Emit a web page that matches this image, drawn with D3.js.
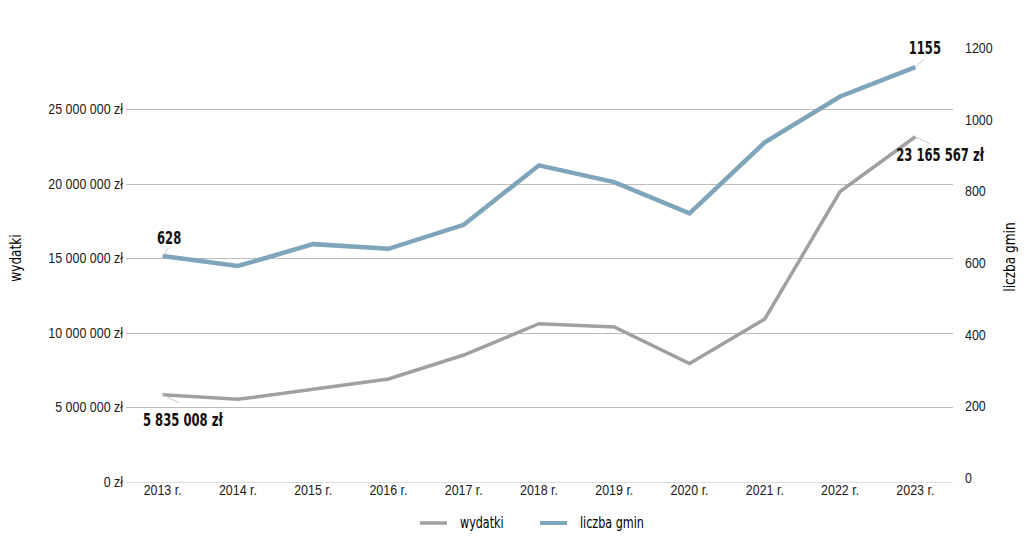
<!DOCTYPE html>
<html>
<head>
<meta charset="utf-8">
<script src="https://cdn.jsdelivr.net/npm/d3@7"></script>
<style>
  body { margin: 0; background: #fff; }
  svg { display: block; font-family: "DejaVu Sans Condensed", "Liberation Sans Narrow", sans-serif; }
  .tick text { fill: #1a1a1a; font-size: 15px; }
  .label { font-weight: bold; font-size: 17px; fill: #111; }
</style>
</head>
<body>
<script>
var years = ['2013 r.', '2014 r.', '2015 r.', '2016 r.', '2017 r.', '2018 r.', '2019 r.', '2020 r.', '2021 r.', '2022 r.', '2023 r.'];
var wydatki = [5835008, 5520000, 6200000, 6890000, 8500000, 10600000, 10380000, 7920000, 10920000, 19480000, 23165567];
var gminy = [628, 600, 661, 648, 715, 881, 834, 747, 945, 1073, 1155];
var leftTicks = [0, 5000000, 10000000, 15000000, 20000000, 25000000];
var rightTicks = [0, 200, 400, 600, 800, 1000, 1200];

var width = 1024, height = 556;
var grey = '#a0a0a0', blue = '#7ea5b9';
var narrow = 0.83, narrowBold = 0.76;

var svg = d3.select('body').append('svg')
  .attr('width', width)
  .attr('height', height);

var x = d3.scaleBand().domain(years).range([125, 953]);
var yL = d3.scaleLinear().domain([0, 30000000]).range([481.5, 35]);
var yR = d3.scaleLinear().domain([0, 1200]).range([481, 51]);

function cx(d, i) { return x(years[i]) + x.bandwidth() / 2; }

function fmt(v) {
  return d3.format(',')(v).replace(/,/g, ' ') + ' zł';
}

// the reference uses a condensed face, squeeze ours horizontally
function squeeze(sel, k) {
  sel.attr('transform', 'scale(' + k + ',1)');
}

// gridlines
svg.append('g').selectAll('line')
  .data(leftTicks)
  .enter().append('line')
  .attr('x1', 126).attr('x2', 953)
  .attr('y1', function(d) { return Math.round(yL(d)) + 0.5; })
  .attr('y2', function(d) { return Math.round(yL(d)) + 0.5; })
  .attr('stroke', function(d) { return d === 0 ? '#dcdcdc' : '#bdbdbd'; })
  .attr('stroke-width', 1);

// left axis
var gl = svg.append('g')
  .attr('transform', 'translate(123,0)')
  .call(d3.axisLeft(yL).tickValues(leftTicks).tickSize(0).tickPadding(0).tickFormat(fmt));
gl.select('.domain').remove();
gl.selectAll('.tick text').attr('dy', '0.3em').call(squeeze, narrow);

// right axis
var gr = svg.append('g')
  .attr('transform', 'translate(965,-3)')
  .call(d3.axisRight(yR).tickValues(rightTicks).tickSize(0).tickPadding(0).tickFormat(d3.format('d')));
gr.select('.domain').remove();
gr.selectAll('.tick text').attr('dy', '0.3em').call(squeeze, narrow);

// x axis
var gx = svg.append('g')
  .attr('transform', 'translate(0,482)')
  .call(d3.axisBottom(x).tickSize(0).tickPadding(2));
gx.select('.domain').remove();
gx.selectAll('.tick text').call(squeeze, narrow);

// axis titles
svg.append('text')
  .attr('transform', 'translate(21,258) rotate(-90) scale(0.9,1)')
  .attr('text-anchor', 'middle')
  .style('font-size', '15px')
  .text('wydatki');
svg.append('text')
  .attr('transform', 'translate(1015,257) rotate(-90) scale(0.9,1)')
  .attr('text-anchor', 'middle')
  .style('font-size', '15px')
  .text('liczba gmin');

// lines
var lineL = d3.line().x(cx).y(function(d) { return yL(d); });
var lineR = d3.line().x(cx).y(function(d) { return yR(d); });

svg.append('path')
  .datum(wydatki)
  .attr('d', lineL)
  .attr('fill', 'none')
  .attr('stroke', grey)
  .attr('stroke-width', 3.5);

svg.append('path')
  .datum(gminy)
  .attr('d', lineR)
  .attr('fill', 'none')
  .attr('stroke', blue)
  .attr('stroke-width', 4.5);

// data labels with leader lines
var last = years.length - 1;
var labels = [
  { x: cx(null, 0), y: yR(gminy[0]), dx: 6, dy: -8, tx: 157, ty: 244, anchor: 'start', text: String(gminy[0]) },
  { x: cx(null, last), y: yR(gminy[last]), dx: 9, dy: -8, tx: 941, ty: 54, anchor: 'end', text: String(gminy[last]) },
  { x: cx(null, 0), y: yL(wydatki[0]), dx: 16, dy: 8, tx: 143, ty: 426, anchor: 'start', text: fmt(wydatki[0]) },
  { x: cx(null, last), y: yL(wydatki[last]), dx: 14, dy: 7, tx: 984, ty: 161, anchor: 'end', text: fmt(wydatki[last]) }
];

svg.append('g').selectAll('line')
  .data(labels)
  .enter().append('line')
  .attr('x1', function(d) { return d.x; })
  .attr('y1', function(d) { return d.y; })
  .attr('x2', function(d) { return d.x + d.dx; })
  .attr('y2', function(d) { return d.y + d.dy; })
  .attr('stroke', '#c8c8c8')
  .attr('stroke-width', 1);

svg.append('g').selectAll('text')
  .data(labels)
  .enter().append('text')
  .attr('class', 'label')
  .attr('transform', function(d) { return 'translate(' + d.tx + ',' + d.ty + ') scale(' + narrowBold + ',1)'; })
  .attr('text-anchor', function(d) { return d.anchor; })
  .text(function(d) { return d.text; });

// legend
var legend = [
  { name: 'wydatki', color: grey, w: 3.5, x: 420 },
  { name: 'liczba gmin', color: blue, w: 4, x: 540 }
];
var lg = svg.append('g').selectAll('g')
  .data(legend)
  .enter().append('g')
  .attr('transform', function(d) { return 'translate(' + d.x + ',523)'; });
lg.append('line')
  .attr('x1', 0).attr('x2', 27)
  .attr('stroke', function(d) { return d.color; })
  .attr('stroke-width', function(d) { return d.w; });
lg.append('text')
  .attr('transform', 'translate(40,0) scale(' + narrow + ',1)')
  .attr('dy', '0.35em')
  .style('font-size', '15px')
  .text(function(d) { return d.name; });
</script>
</body>
</html>
